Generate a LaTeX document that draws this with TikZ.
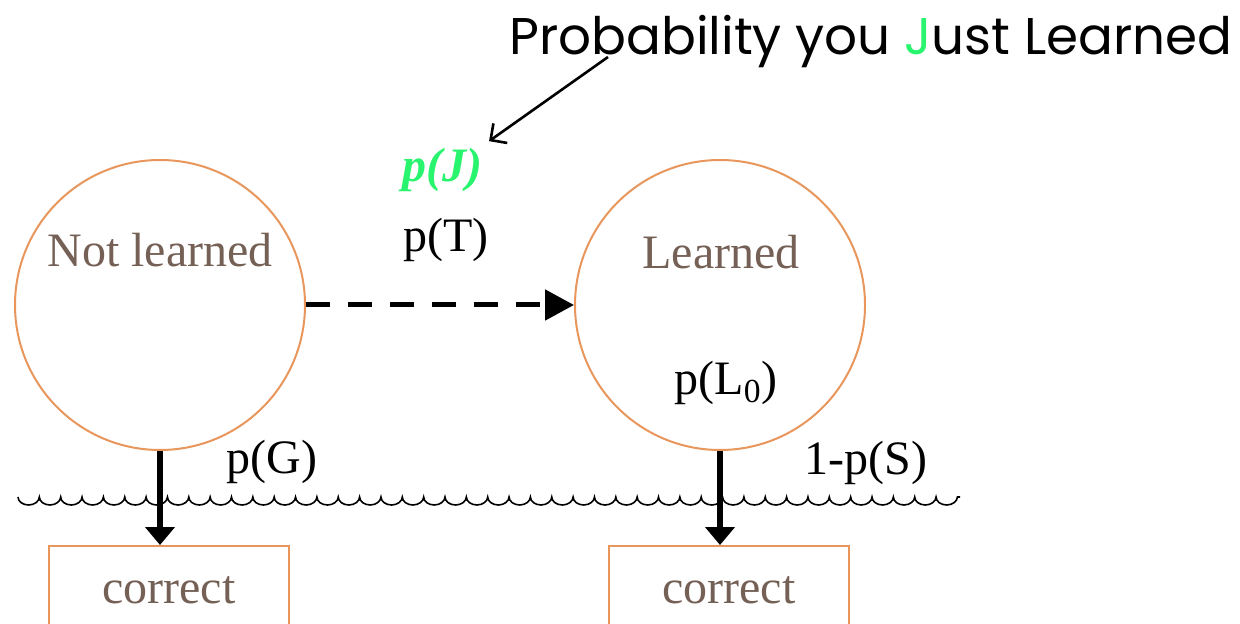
\documentclass[tikz,border=0pt]{standalone}
\usepackage{fontspec}
\setmainfont{Liberation Serif}
\newfontfamily\titlefont{Poppins}
\usetikzlibrary{arrows.meta,positioning,decorations.pathmorphing}
\definecolor{statebrown}{RGB}{117,96,86}
\definecolor{edgeorange}{RGB}{232,150,92}
\definecolor{jgreen}{RGB}{40,244,110}

\begin{document}
\begin{tikzpicture}[
    x=0.5pt, y=-0.5pt,
    font=\fontsize{24}{28}\selectfont,
    st/.style={draw=edgeorange, line width=1pt, circle, minimum size=145pt, inner sep=0pt},
    obs/.style={draw=edgeorange, line width=1pt, fill=white, anchor=north, minimum width=120pt, inner sep=0pt, text height=28.5pt, text depth=40pt, text=statebrown},
    lab/.style={text=statebrown},
    trans/.style={-{Triangle[length=14.5pt,width=15pt]}, line width=2.5pt, dash pattern=on 12pt off 9pt},
    emit/.style={-{Triangle[length=9pt,width=14.5pt]}, line width=3pt},
    ptr/.style={-{Straight Barb[length=6pt,width=12pt]}, line width=1.3pt},
    wave/.style={decorate, decoration={bumps, mirror, segment length=21.35pt, amplitude=4pt}, line width=0.8pt}
]
\useasboundingbox (0,0) rectangle (1240,624);
\clip (0,0) rectangle (1240,624);

% states
\node[st] (notl) at (160,305) {};
\node[st] (lrn) at (720,305) {};
\node[lab] (notlText) at (160,250) {Not learned};
\node[lab] (lrnText) at (721,252) {Learned};
\node (pL0) at (726,383) {p(L\textsubscript{0})};

% observations
\node[obs] (corrA) at (169,545) {correct};
\node[obs] (corrB) at (729,545) {correct};

% evidence line
\coordinate (waveL) at (18,497);
\coordinate (waveR) at (960,497);
\draw[wave] (waveL) -- (waveR);

% edges
\draw[trans] (notl.east) -- (lrn.west);
\draw[emit] (notl.south) -- (notl.south |- corrA.north);
\draw[emit] (lrn.south) -- (lrn.south |- corrB.north);
\node (pT) at (446,240) {p(T)};
\node (pG) at (272,462) {p(G)};
\node (pS) at (866,463) {1-p(S)};
\node[text=jgreen, font=\fontsize{24}{28}\selectfont\bfseries\itshape] (pJ) at (442,170) {p(J)};

% title
\node[anchor=base, font=\fontsize{25.8}{30}\selectfont\titlefont] (title) at (871,55) {Probability you {\color{jgreen}J}ust Learned};
\coordinate (ptrTail) at (608,57);
\draw[ptr] (ptrTail) -- (pJ.north east);
\end{tikzpicture}
\end{document}
